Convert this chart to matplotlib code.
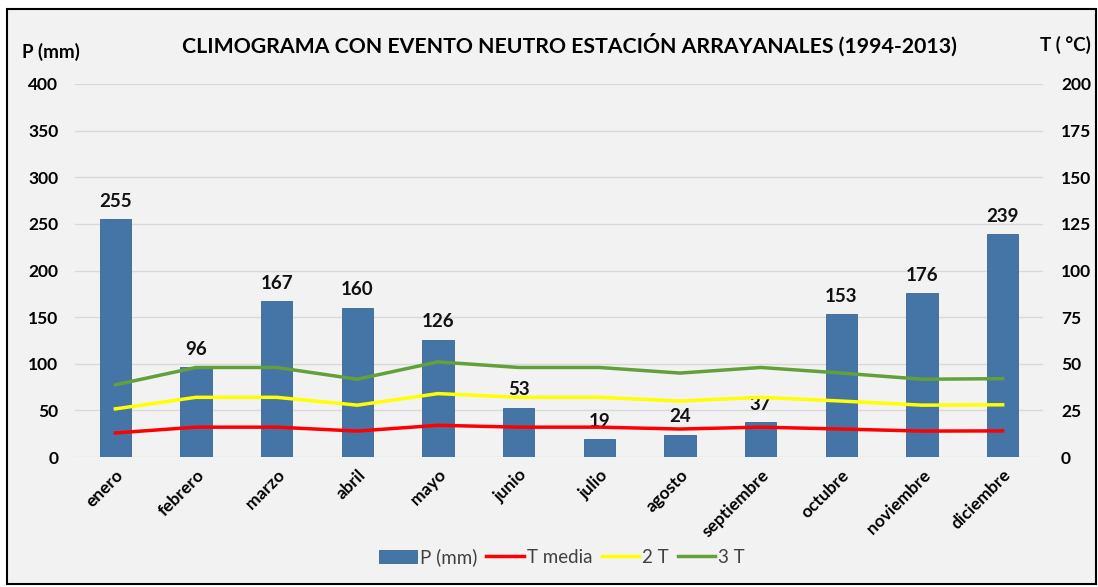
import numpy as np
import matplotlib
matplotlib.use('Agg')
import matplotlib.pyplot as plt
from matplotlib.patches import Rectangle

plt.rcParams['font.family'] = ['Lato', 'DejaVu Sans']

meses = ['enero', 'febrero', 'marzo', 'abril', 'mayo', 'junio', 'julio',
         'agosto', 'septiembre', 'octubre', 'noviembre', 'diciembre']
precip = [255, 96, 167, 160, 126, 53, 19, 24, 37, 153, 176, 239]
t_media = [12.9, 16.0, 16.0, 13.9, 17.0, 16.0, 16.0, 15.0, 16.0, 15.0, 13.9, 14.0]
dos_t = [2 * t for t in t_media]
tres_t = [3 * t for t in t_media]

fig = plt.figure(figsize=(10.98, 5.87), dpi=100)
fig.patch.set_facecolor('white')
# marco gris con borde negro
fig.patches.append(Rectangle((7 / 1098, 3 / 587), 1089 / 1098, 575 / 587,
                             transform=fig.transFigure, facecolor='#f2f2f2',
                             edgecolor='black', linewidth=1.5, zorder=-10))

ax = fig.add_axes([75 / 1098, 1 - 457 / 587, 968 / 1098, 373 / 587])
ax.set_facecolor('none')
x = np.arange(len(meses))

barras = ax.bar(x, precip, width=0.385, color='#4575a6', edgecolor='#3a6591',
                linewidth=0.6, label='P (mm)', zorder=2)
for xi, v in zip(x, precip):
    ax.text(xi, v + 10, str(v), ha='center', va='bottom', fontsize=13.5,
            fontweight='bold', color='#111111', zorder=5)

ax.set_ylim(0, 400)
ax.set_xlim(-0.5, 11.5)
ax.set_yticks(np.arange(0, 401, 50))
ax.yaxis.grid(True, color='#d9d9d9', linewidth=1)
ax.set_axisbelow(True)
for s in ax.spines.values():
    s.set_visible(False)
ax.tick_params(axis='both', length=0, labelsize=12.5)
ax.tick_params(axis='y', pad=12)
ax.tick_params(axis='x', pad=7)
for lb in ax.get_yticklabels():
    lb.set_fontweight('bold')
ax.set_xticks(x)
ax.set_xticklabels(meses, rotation=45, ha='right', rotation_mode='anchor',
                   fontweight='bold', fontsize=12.5)

ax2 = ax.twinx()
ax2.set_ylim(0, 200)
ax2.set_yticks(np.arange(0, 201, 25))
for s in ax2.spines.values():
    s.set_visible(False)
ax2.tick_params(axis='y', length=0, labelsize=12.5, pad=13)
for lb in ax2.get_yticklabels():
    lb.set_fontweight('bold')
l1, = ax2.plot(x, t_media, color='#ff0000', linewidth=2.5, label='T media')
l2, = ax2.plot(x, dos_t, color='#ffff00', linewidth=2.5, label='2 T')
l3, = ax2.plot(x, tres_t, color='#62a03b', linewidth=2.5, label='3 T')

fig.text(569 / 1098, 1 - 45 / 587,
         'CLIMOGRAMA CON EVENTO NEUTRO ESTACIÓN ARRAYANALES (1994-2013)',
         ha='center', va='center', fontsize=15.3, fontweight='bold')
fig.text(22 / 1098, 1 - 52 / 587, 'P (mm)', ha='left', va='center',
         fontsize=13.5, fontweight='bold')
fig.text(1040 / 1098, 1 - 45 / 587, 'T ( °C)', ha='left', va='center',
         fontsize=13.5, fontweight='bold')

leg = fig.legend([barras, l1, l2, l3], ['P (mm)', 'T media', '2 T', '3 T'],
                 loc='center', bbox_to_anchor=(562 / 1098, 1 - 557 / 587),
                 ncol=4, frameon=False, fontsize=13.5, handlelength=2.0,
                 handletextpad=0.15, columnspacing=0.5)
for t in leg.get_texts():
    t.set_color('#404040')

fig.savefig('out.png', dpi=100)
